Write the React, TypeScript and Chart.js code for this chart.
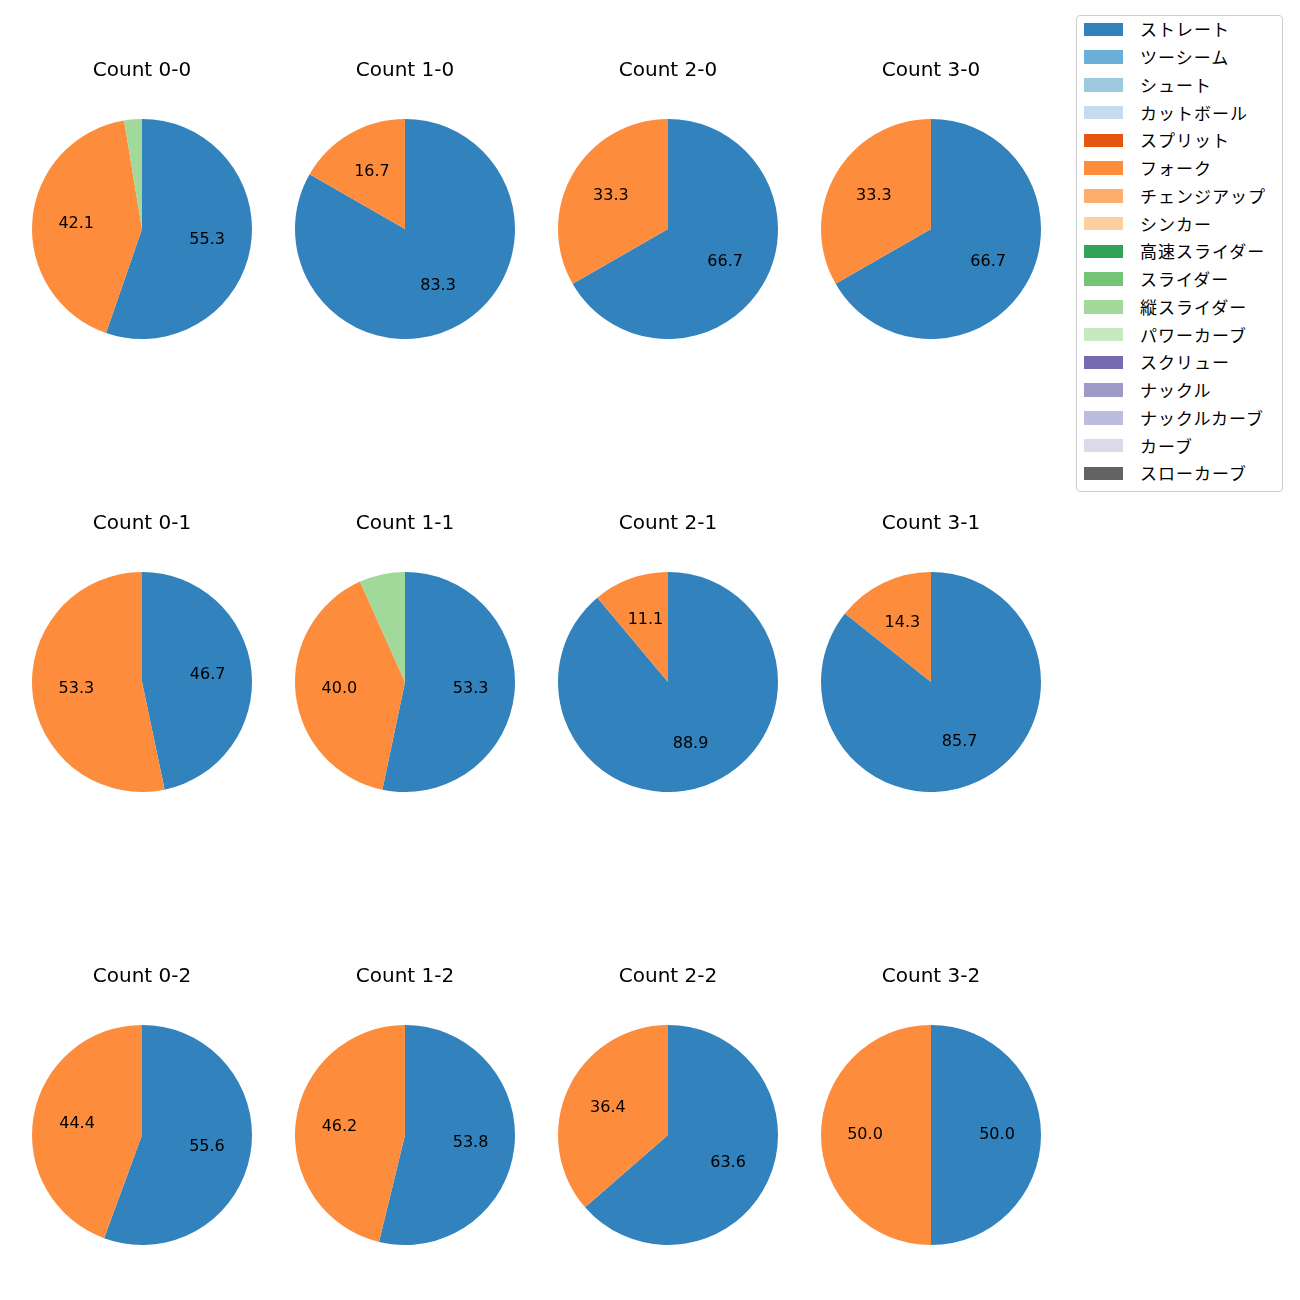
import React, { useEffect, useRef } from "react";
import { Chart, registerables } from "chart.js";

Chart.register(...registerables);

const countLabels = [
  "Count 0-0", "Count 1-0", "Count 2-0", "Count 3-0",
  "Count 0-1", "Count 1-1", "Count 2-1", "Count 3-1",
  "Count 0-2", "Count 1-2", "Count 2-2", "Count 3-2",
];

const pitchTypes = [
  "ストレート", "ツーシーム", "シュート", "カットボール", "スプリット", "フォーク",
  "チェンジアップ", "シンカー", "高速スライダー", "スライダー", "縦スライダー",
  "パワーカーブ", "スクリュー", "ナックル", "ナックルカーブ", "カーブ", "スローカーブ",
];

const pitchColors = [
  "#3182bd", "#6baed6", "#9ecae1", "#c6dbef", "#e6550d", "#fd8d3c",
  "#fdae6b", "#fdd0a2", "#31a354", "#74c476", "#a1d99b", "#c7e9c0",
  "#756bb1", "#9e9ac8", "#bcbddc", "#dadaeb", "#636363",
];

// percentages per count (order follows countLabels)
const straightPct = [55.3, 83.3, 66.7, 66.7, 46.7, 53.3, 88.9, 85.7, 55.6, 53.8, 63.6, 50.0];
const forkPct = [42.1, 16.7, 33.3, 33.3, 53.3, 40.0, 11.1, 14.3, 44.4, 46.2, 36.4, 50.0];
const verticalSliderPct = [2.6, 0, 0, 0, 0, 6.7, 0, 0, 0, 0, 0, 0];

const FONT = "'DejaVu Sans', 'Noto Sans CJK JP', sans-serif";
const LEGEND_FONT = "'Noto Sans CJK JP', sans-serif";
const colCenters = [141.5, 404.5, 667.5, 930.5];
const rowCenters = [229, 682, 1135];
const R = 110;
const TITLE_OFFSET = 158;
const TITLE_SIZE = 20;
const LABEL_SIZE = 16;

const pctLabelPlugin = {
  id: "pctLabels",
  afterDatasetsDraw(chart: any) {
    const ctx = chart.ctx;
    const meta = chart.getDatasetMeta(0);
    const data = chart.data.datasets[0].data as number[];
    const total = data.reduce((a, b) => a + b, 0);
    ctx.save();
    ctx.fillStyle = "#000";
    ctx.font = `${LABEL_SIZE}px ${FONT}`;
    ctx.textAlign = "center";
    ctx.textBaseline = "middle";
    meta.data.forEach((arc: any, i: number) => {
      const v = data[i];
      if (!v) return;
      const pct = (v / total) * 100;
      if (pct < 10) return;
      const p = arc.getProps(["x", "y", "startAngle", "endAngle", "outerRadius"], true);
      const mid = (p.startAngle + p.endAngle) / 2;
      const r = p.outerRadius * 0.6;
      ctx.fillText(pct.toFixed(1), p.x + Math.cos(mid) * r, p.y + Math.sin(mid) * r);
    });
    ctx.restore();
  },
};

function PieCell({ index }: { index: number }) {
  const ref = useRef<HTMLCanvasElement>(null);
  const col = index % 4;
  const row = Math.floor(index / 4);
  const cx = colCenters[col];
  const cy = rowCenters[row];
  const lineH = TITLE_SIZE * 1.2;
  const padTop = 6;
  const titleY = cy - TITLE_OFFSET;
  const top = titleY - padTop - lineH / 2;
  const padBottom = cy - R - (titleY + lineH / 2);
  const width = 2 * R + 20;
  const height = padTop + lineH + padBottom + 2 * R;

  useEffect(() => {
    if (!ref.current) return;
    const values = pitchTypes.map((_, k) => {
      if (k === 0) return straightPct[index];
      if (k === 5) return forkPct[index];
      if (k === 10) return verticalSliderPct[index];
      return 0;
    });
    const chart = new Chart(ref.current, {
      type: "pie",
      data: {
        labels: pitchTypes,
        datasets: [
          {
            data: values,
            backgroundColor: pitchColors,
            borderWidth: 0,
            hoverOffset: 0,
          },
        ],
      },
      options: {
        animation: false,
        responsive: false,
        devicePixelRatio: 1,
        events: [],
        layout: { padding: 0 },
        plugins: {
          legend: { display: false },
          tooltip: { enabled: false },
          title: {
            display: true,
            text: countLabels[index],
            color: "#000",
            font: { size: TITLE_SIZE, family: FONT, weight: "normal", lineHeight: 1.2 },
            padding: { top: padTop, bottom: padBottom },
          },
        },
      },
      plugins: [pctLabelPlugin],
    });
    return () => chart.destroy();
  }, [index]);

  return (
    <canvas
      ref={ref}
      width={width}
      height={height}
      style={{ position: "absolute", left: cx - width / 2, top, width, height }}
    />
  );
}

export default function App() {
  const legendTop = 15;
  const rowStep = 27.75;
  const firstRowY = 29.3;
  return (
    <div
      style={{
        position: "absolute",
        left: 0,
        top: 0,
        width: 1300,
        height: 1300,
        background: "#fff",
        fontFamily: LEGEND_FONT,
      }}
    >
      {countLabels.map((_, i) => (
        <PieCell key={i} index={i} />
      ))}
      <div
        style={{
          position: "absolute",
          left: 1076,
          top: legendTop,
          width: 207,
          height: 477,
          border: "1px solid #cccccc",
          borderRadius: 4,
          boxSizing: "border-box",
          background: "#fff",
        }}
      />
      {pitchTypes.map((name, i) => {
        const y = firstRowY + rowStep * i;
        return (
          <React.Fragment key={name}>
            <div
              style={{
                position: "absolute",
                left: 1084,
                top: y - 6.8,
                width: 39,
                height: 13.6,
                background: pitchColors[i],
              }}
            />
            <div
              style={{
                position: "absolute",
                left: 1140,
                top: y - 11,
                height: 22,
                lineHeight: "22px",
                fontSize: 17,
                letterSpacing: 1.0,
                color: "#000",
                whiteSpace: "nowrap",
              }}
            >
              {name}
            </div>
          </React.Fragment>
        );
      })}
    </div>
  );
}
